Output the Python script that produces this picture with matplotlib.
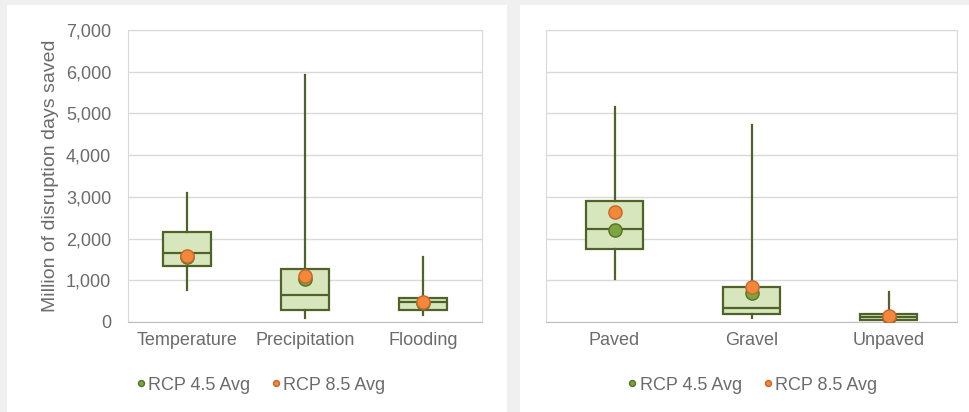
import matplotlib.pyplot as plt
from matplotlib.patches import Rectangle

plt.rcParams['font.family'] = ['Liberation Sans', 'DejaVu Sans']

# left panel: by hazard
hazards = ["Temperature", "Precipitation", "Flooding"]
haz_low = [770, 90, 160]
haz_q1 = [1340, 290, 290]
haz_med = [1650, 650, 480]
haz_q3 = [2150, 1260, 580]
haz_high = [3090, 5920, 1560]
haz_rcp45 = [1560, 1020, 450]
haz_rcp85 = [1590, 1100, 480]

# right panel: by road surface
surfaces = ["Paved", "Gravel", "Unpaved"]
sur_low = [1030, 90, 40]
sur_q1 = [1750, 190, 50]
sur_med = [2230, 330, 110]
sur_q3 = [2900, 840, 180]
sur_high = [5150, 4720, 720]
sur_rcp45 = [2210, 700, 120]
sur_rcp85 = [2640, 850, 150]

yticks = [0, 1000, 2000, 3000, 4000, 5000, 6000, 7000]
ylabel = "Million of disruption days saved"

box_fill = "#d8e6bd"
box_edge = "#50622a"
green = "#7ba63d"
orange = "#f3883a"
text_col = "#6b6b6b"
grid_col = "#d9d9d9"

fig = plt.figure(figsize=(9.69, 4.12), dpi=100)
fig.patch.set_facecolor("#f0f0f0")
fig.patches.append(Rectangle((7 / 969, 0), 500 / 969, 407 / 412, transform=fig.transFigure,
                             facecolor="white", edgecolor="none", zorder=-10))
fig.patches.append(Rectangle((520 / 969, 0), 449 / 969, 407 / 412, transform=fig.transFigure,
                             facecolor="white", edgecolor="none", zorder=-10))

ax1 = fig.add_axes([128 / 969, 90 / 412, 354 / 969, 292 / 412])
ax2 = fig.add_axes([546 / 969, 90 / 412, 411 / 969, 292 / 412])


def draw(ax, cats, low, q1, med, q3, high, r45, r85, legend_x):
    stats = []
    for i in range(len(cats)):
        stats.append({"whislo": low[i], "q1": q1[i], "med": med[i], "q3": q3[i],
                      "whishi": high[i], "fliers": []})
    pos = list(range(len(cats)))
    ax.bxp(stats, positions=pos, widths=0.41, patch_artist=True, showcaps=False,
           showfliers=False,
           boxprops=dict(facecolor=box_fill, edgecolor=box_edge, linewidth=1.6),
           medianprops=dict(color=box_edge, linewidth=1.6),
           whiskerprops=dict(color=box_edge, linewidth=1.6))
    ax.plot(pos, r45, "o", ls="none", ms=9.5, mfc=green, mec="#55702a", mew=1,
            label="RCP 4.5 Avg", zorder=5)
    ax.plot(pos, r85, "o", ls="none", ms=9.5, mfc=orange, mec="#c8652a", mew=1,
            label="RCP 8.5 Avg", zorder=6)
    ax.set_xlim(-0.5, len(cats) - 0.5)
    ax.set_ylim(0, 7000)
    ax.set_yticks(yticks)
    ax.set_xticks(pos)
    ax.set_xticklabels(cats)
    ax.grid(axis="y", color=grid_col, linewidth=1)
    ax.set_axisbelow(True)
    for s in ax.spines.values():
        s.set_color(grid_col)
    ax.spines["bottom"].set_color("#bfbfbf")
    ax.tick_params(length=0, labelsize=13, colors=text_col)
    ax.tick_params(axis="x", pad=7)
    ax.tick_params(axis="y", pad=12)
    leg = ax.legend(loc="center", bbox_to_anchor=(legend_x, -0.216), ncol=2, frameon=False,
                    fontsize=13, handlelength=0.3, handletextpad=0.25, columnspacing=1.3,
                    markerscale=0.45)
    for t in leg.get_texts():
        t.set_color(text_col)


draw(ax1, hazards, haz_low, haz_q1, haz_med, haz_q3, haz_high, haz_rcp45, haz_rcp85, 0.378)
draw(ax2, surfaces, sur_low, sur_q1, sur_med, sur_q3, sur_high, sur_rcp45, sur_rcp85, 0.505)

ax1.yaxis.set_major_formatter(plt.FuncFormatter(lambda v, p: f"{int(v):,}"))
ax1.set_ylabel(ylabel, fontsize=14, color=text_col, labelpad=5)
ax2.set_yticklabels([])

fig.savefig("out.png", dpi=100, facecolor=fig.get_facecolor())
